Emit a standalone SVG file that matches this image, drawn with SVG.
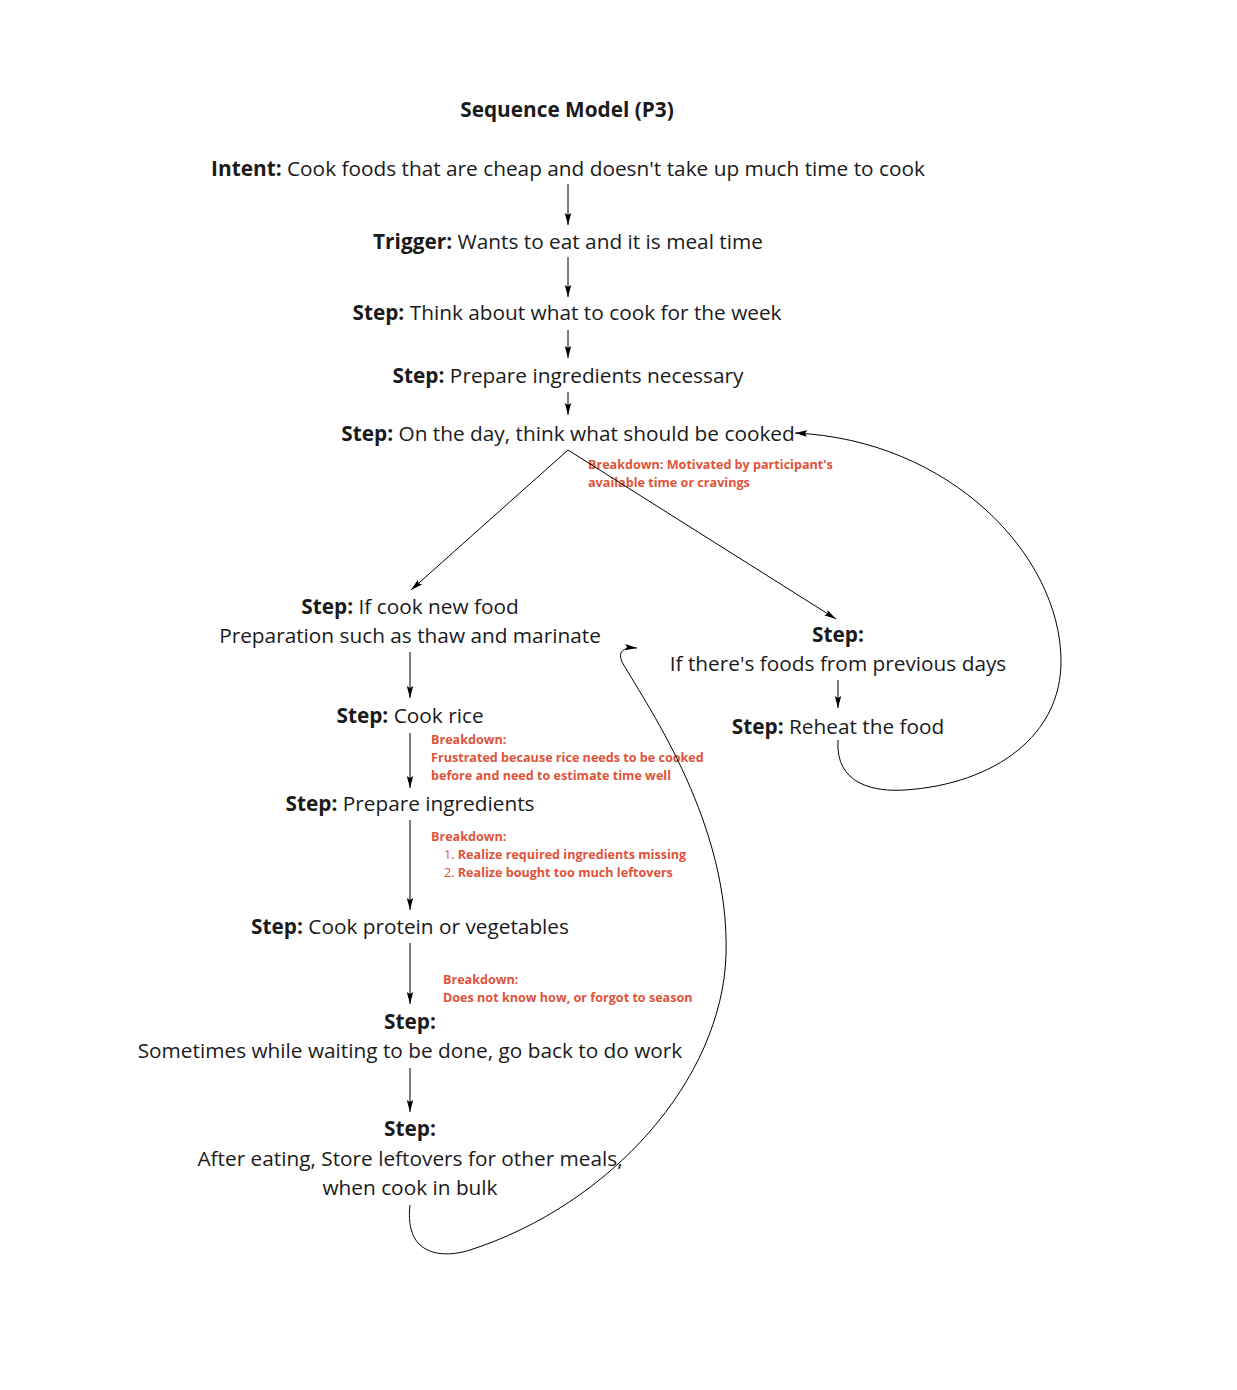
<svg xmlns="http://www.w3.org/2000/svg" width="1237" height="1390" viewBox="0 0 1237 1390">
<style>
.t{font-family:"Open Sans","Liberation Sans",sans-serif;font-size:20.8px;fill:#1a1a1a;text-anchor:middle}
.b{font-weight:bold}
.r{font-family:"Open Sans","Liberation Sans",sans-serif;font-size:12.6px;font-weight:bold;fill:#e0533a}
.rn{font-weight:normal}
.c{fill:none;stroke:#000;stroke-width:1}
</style>
<defs>
<marker id="ah" viewBox="0 0 12 10" refX="12" refY="5" markerWidth="12" markerHeight="10" markerUnits="userSpaceOnUse" orient="auto"><path d="M0,1.8 L12,5 L0,8.2 L2,5 Z" fill="#000"/></marker>
</defs>
<rect width="1237" height="1390" fill="#fff"/>
<g id="title"><text class="t b" x="567" y="117">Sequence Model (P3)</text></g>
<g id="intent"><text class="t" x="568" y="176"><tspan class="b">Intent:</tspan> Cook foods that are cheap and doesn't take up much time to cook</text></g>
<g id="trigger"><text class="t" x="568" y="249"><tspan class="b">Trigger:</tspan> Wants to eat and it is meal time</text></g>
<g id="step-think"><text class="t" x="567" y="320"><tspan class="b">Step:</tspan> Think about what to cook for the week</text></g>
<g id="step-prepare"><text class="t" x="568" y="383"><tspan class="b">Step:</tspan> Prepare ingredients necessary</text></g>
<g id="step-day"><text class="t" x="568" y="441"><tspan class="b">Step:</tspan> On the day, think what should be cooked</text>
<text class="r" x="588" y="469">Breakdown: Motivated by participant's</text>
<text class="r" x="588" y="487">available time or cravings</text></g>
<g id="step-new"><text class="t" x="410" y="614"><tspan class="b">Step:</tspan> If cook new food</text>
<text class="t" x="410" y="643">Preparation such as thaw and marinate</text></g>
<g id="step-prev"><text class="t b" x="838" y="642">Step:</text>
<text class="t" x="838" y="671">If there's foods from previous days</text></g>
<g id="step-reheat"><text class="t" x="838" y="734"><tspan class="b">Step:</tspan> Reheat the food</text></g>
<g id="step-rice"><text class="t" x="410" y="723"><tspan class="b">Step:</tspan> Cook rice</text>
<text class="r" x="431" y="744">Breakdown:</text>
<text class="r" x="431" y="762">Frustrated because rice needs to be cooked</text>
<text class="r" x="431" y="780">before and need to estimate time well</text></g>
<g id="step-ingredients"><text class="t" x="410" y="811"><tspan class="b">Step:</tspan> Prepare ingredients</text>
<text class="r" x="431" y="841">Breakdown:</text>
<text class="r" x="444" y="859"><tspan class="rn">1. </tspan>Realize required ingredients missing</text>
<text class="r" x="444" y="877"><tspan class="rn">2. </tspan>Realize bought too much leftovers</text></g>
<g id="step-protein"><text class="t" x="410" y="934"><tspan class="b">Step:</tspan> Cook protein or vegetables</text>
<text class="r" x="443" y="984">Breakdown:</text>
<text class="r" x="443" y="1002">Does not know how, or forgot to season</text></g>
<g id="step-wait"><text class="t b" x="410" y="1029">Step:</text>
<text class="t" x="410" y="1058">Sometimes while waiting to be done, go back to do work</text></g>
<g id="step-store"><text class="t b" x="410" y="1136">Step:</text>
<text class="t" x="410" y="1166">After eating, Store leftovers for other meals,</text>
<text class="t" x="410" y="1195">when cook in bulk</text></g>
<g id="connectors">
<path class="c" d="M568 184 V225" marker-end="url(#ah)"/>
<path class="c" d="M568 257 V297" marker-end="url(#ah)"/>
<path class="c" d="M568 330 V358" marker-end="url(#ah)"/>
<path class="c" d="M568 392 V415" marker-end="url(#ah)"/>
<path class="c" d="M568 450 L411 590" marker-end="url(#ah)"/>
<path class="c" d="M568 450 L836 619" marker-end="url(#ah)"/>
<path class="c" d="M838 680 V708" marker-end="url(#ah)"/>
<path class="c" d="M410 652 V698" marker-end="url(#ah)"/>
<path class="c" d="M410 733 V788" marker-end="url(#ah)"/>
<path class="c" d="M410 820 V910" marker-end="url(#ah)"/>
<path class="c" d="M410 943 V1004" marker-end="url(#ah)"/>
<path class="c" d="M410 1068 V1112" marker-end="url(#ah)"/>
<path class="c" d="M838 740 C835 785 875 792 905 790 C995 784 1062 735 1061 660 C1060 555 950 440 795 433" marker-end="url(#ah)"/>
<path class="c" d="M410 1205 C404 1258 445 1258 470 1250 C610 1205 722 1080 726 955 C730 825 650 710 622 662 C618 652 622 647 637 648" marker-end="url(#ah)"/>
</g>
</svg>
